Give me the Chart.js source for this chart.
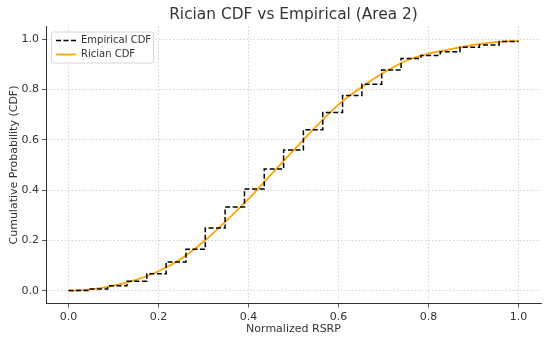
<!DOCTYPE html>
<html>
<head>
<meta charset="utf-8">
<script src="https://cdn.jsdelivr.net/npm/chart.js@4"></script>
<style>
  html, body { margin: 0; padding: 0; background: #fff; }
  #wrap { width: 550px; height: 340px; position: relative; }
</style>
</head>
<body>
<div id="wrap"><canvas id="grafico"></canvas></div>
<script>
// =============================
// DATA
// =============================
const titulo = "Rician CDF vs Empirical (Area 2)";
const tituloX = "Normalized RSRP";
const tituloY = "Cumulative Probability (CDF)";
const ticks = [0.0, 0.2, 0.4, 0.6, 0.8, 1.0];

// empirical steps (each value held from its x to the next x)
const empX = [0, 0.043, 0.087, 0.130, 0.174, 0.217, 0.261, 0.304, 0.348, 0.391, 0.435, 0.478,
              0.522, 0.565, 0.609, 0.652, 0.696, 0.739, 0.783, 0.826, 0.870, 0.913, 0.957, 1.0];
const empY = [0.002, 0.008, 0.020, 0.038, 0.068, 0.115, 0.165, 0.250, 0.333, 0.405, 0.484, 0.560,
              0.640, 0.708, 0.776, 0.821, 0.877, 0.923, 0.935, 0.950, 0.968, 0.977, 0.990, 0.990];

// rician fit
const ricX = [0, 0.05, 0.10, 0.15, 0.20, 0.25, 0.30, 0.35, 0.40, 0.45, 0.50,
              0.55, 0.60, 0.65, 0.70, 0.75, 0.80, 0.85, 0.90, 0.95, 1.0];
const ricY = [0, 0.006, 0.021, 0.044, 0.078, 0.127, 0.195, 0.277, 0.365, 0.462, 0.558,
              0.652, 0.740, 0.808, 0.866, 0.914, 0.942, 0.960, 0.977, 0.988, 0.993];

const corTexto = "#333";
const fonte = "DejaVu Sans";

// =============================
// TITULO + LEGENDA (sobre a area do grafico)
// =============================
const extrasPlugin = {
  id: "extras",
  afterDraw(chart) {
    const ctx = chart.ctx;
    const a = chart.chartArea;
    ctx.save();

    // titulo centrado nos eixos
    ctx.font = "15.4px " + fonte;
    ctx.fillStyle = corTexto;
    ctx.textAlign = "center";
    ctx.textBaseline = "middle";
    ctx.fillText(titulo, (a.left + a.right) / 2, 15);

    // caixa da legenda
    const x0 = a.left + 5, y0 = a.top + 5, w = 102, h = 31;
    ctx.fillStyle = "rgba(255,255,255,0.85)";
    ctx.strokeStyle = "#d6d6d6";
    ctx.lineWidth = 1;
    ctx.beginPath();
    ctx.roundRect(x0 + 0.5, y0 + 0.5, w, h, 2);
    ctx.fill();
    ctx.stroke();

    ctx.font = "10px " + fonte;
    ctx.textAlign = "left";
    ctx.fillStyle = corTexto;

    // empirical
    ctx.strokeStyle = "#000";
    ctx.lineWidth = 1.5;
    ctx.setLineDash([5, 2.5]);
    ctx.beginPath();
    ctx.moveTo(x0 + 5, y0 + 9);
    ctx.lineTo(x0 + 25, y0 + 9);
    ctx.stroke();
    ctx.fillText(chart.data.datasets[0].label, x0 + 30, y0 + 9);

    // rician
    ctx.strokeStyle = "orange";
    ctx.lineWidth = 1.8;
    ctx.setLineDash([]);
    ctx.beginPath();
    ctx.moveTo(x0 + 5, y0 + 23);
    ctx.lineTo(x0 + 25, y0 + 23);
    ctx.stroke();
    ctx.fillText(chart.data.datasets[1].label, x0 + 30, y0 + 23);
    ctx.restore();
  }
};

// =============================
// GRAFICO
// =============================
const eixo = (titulo, padTitulo, extra) => Object.assign({
  type: "linear",
  min: -0.05,
  max: 1.05,
  afterBuildTicks: s => { s.ticks = ticks.map(v => ({ value: v })); },
  ticks: {
    color: corTexto,
    font: { family: fonte, size: 11 },
    padding: 3,
    callback: v => v.toFixed(1)
  },
  grid: {
    color: "#c8c8c8",
    lineWidth: 0.8,
    drawTicks: true,
    tickLength: 4,
    tickColor: corTexto,
    tickBorderDash: []
  },
  border: { display: true, color: corTexto, width: 1, dash: [1.5, 2] },
  title: {
    display: true,
    text: titulo,
    color: corTexto,
    font: { family: fonte, size: 11 },
    padding: padTitulo
  }
}, extra);

new Chart(document.getElementById("grafico"), {
  type: "line",
  data: {
    datasets: [
      {
        label: "Empirical CDF",
        data: empX.map((x, i) => ({ x, y: empY[i] })),
        borderColor: "#000",
        borderWidth: 1.5,
        borderDash: [5, 2.5],
        stepped: "before",
        pointRadius: 0,
        fill: false
      },
      {
        label: "Rician CDF",
        data: ricX.map((x, i) => ({ x, y: ricY[i] })),
        borderColor: "orange",
        borderWidth: 1.8,
        cubicInterpolationMode: "monotone",
        pointRadius: 0,
        fill: false
      }
    ]
  },
  options: {
    responsive: true,
    maintainAspectRatio: false,
    animation: false,
    layout: { padding: { top: 26.5, right: 9, bottom: 0, left: 0 } },
    plugins: {
      legend: { display: false },
      tooltip: { enabled: false },
      title: { display: false }
    },
    scales: {
      x: eixo(tituloX, { top: 4, bottom: 4 }, {
        position: "bottom",
        afterFit: s => { s.height = 36.5; }
      }),
      y: eixo(tituloY, { top: 8, bottom: 4 }, {
        position: "left",
        afterFit: s => { s.width = 46; }
      })
    }
  },
  plugins: [extrasPlugin]
});
</script>
</body>
</html>
